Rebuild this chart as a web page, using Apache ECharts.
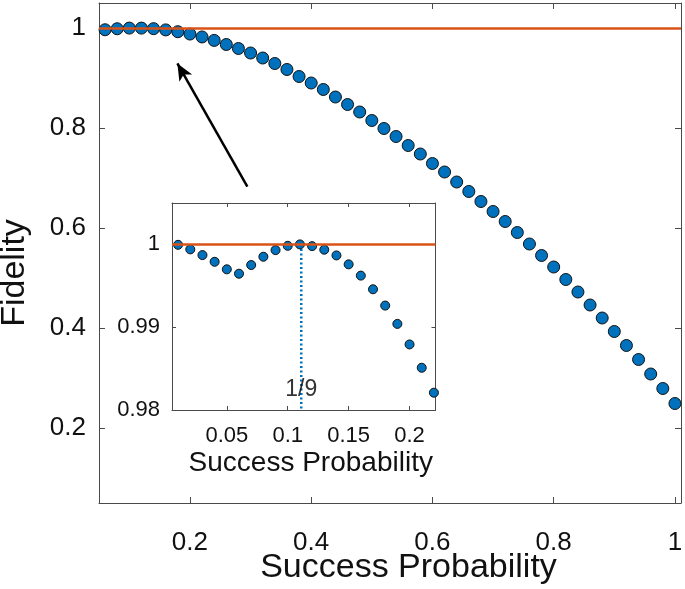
<!DOCTYPE html>
<html>
<head>
<meta charset="utf-8">
<script src="https://cdn.jsdelivr.net/npm/echarts@6/dist/echarts.min.js"></script>
<style>
html,body{margin:0;padding:0;background:#fff;}
#chart{width:685px;height:589px;}
</style>
</head>
<body>
<div id="chart"></div>
<script>
// ---- Main panel data ----
const mainP = [0.06,0.08,0.10,0.12,0.14,0.16,0.18,0.20,0.22,0.24,0.26,0.28,0.30,0.32,0.34,0.36,0.38,0.40,0.42,0.44,0.46,0.48,0.50,0.52,0.54,0.56,0.58,0.60,0.62,0.64,0.66,0.68,0.70,0.72,0.74,0.76,0.78,0.80,0.82,0.84,0.86,0.88,0.90,0.92,0.94,0.96,0.98,1.00];
const mainF = [0.9965,0.9985,0.9998,0.9998,0.9987,0.9962,0.9926,0.9879,0.9821,0.9752,0.967,0.959,0.950,0.940,0.929,0.917,0.903,0.890,0.877,0.862,0.847,0.832,0.815,0.799,0.783,0.765,0.748,0.729,0.712,0.692,0.673,0.653,0.633,0.613,0.591,0.568,0.545,0.522,0.497,0.472,0.446,0.420,0.393,0.365,0.337,0.308,0.279,0.249];
const mainXTicks = [0.2,0.4,0.6,0.8,1];
const mainYTicks = [0.2,0.4,0.6,0.8,1];
const mainXRange = [0.05, 1.01];
const mainYRange = [0.05, 1.05];

// ---- Inset data ----
const insetP = [0.01,0.02,0.03,0.04,0.05,0.06,0.07,0.08,0.09,0.10,0.11,0.12,0.13,0.14,0.15,0.16,0.17,0.18,0.19,0.20,0.21,0.22];
const insetF = [0.99995,0.99940,0.99871,0.99790,0.99699,0.99646,0.99751,0.99851,0.99931,0.99983,1.00000,0.99979,0.99936,0.99867,0.99759,0.99623,0.99458,0.99261,0.99040,0.98792,0.98510,0.98209];
const insetXTicks = [0.05,0.1,0.15,0.2];
const insetYTicks = [0.98,0.99,1];
const insetXRange = [0.005, 0.2213];
const insetYRange = [0.98, 1.005];

// ---- Annotations ----
const unityFidelity = 1;
const oneNinth = 1/9;
const oneNinthLine = [[oneNinth, 1], [oneNinth, 0.98]];
const oneNinthLabelPos = [oneNinth, 0.9825];
const arrowTail = [0.2947, 0.6826];
const arrowHead = [0.1793, 0.9292];

const FONT = 'Liberation Sans, Arial, sans-serif';
const AXIS_COLOR = '#4a4a4a';
const TEXT_COLOR = '#111111';
const BLUE = '#0072BD';
const ORANGE = '#D95319';

function fmt(v){ return String(+v.toFixed(4)); }

function makeAxes(kind, gridIndex, range, ticks, opts){
  const isX = kind === 'x';
  const main = {
    type: 'value', gridIndex: gridIndex, min: range[0], max: range[1],
    position: isX ? 'bottom' : 'left',
    z: opts.z,
    axisLine: {show: true, onZero: false, lineStyle: {color: AXIS_COLOR, width: 1}},
    axisTick: {show: true, inside: true, length: opts.tickLen, customValues: ticks, lineStyle: {color: AXIS_COLOR, width: 1}},
    axisLabel: {show: true, customValues: ticks, formatter: fmt, fontFamily: FONT, fontSize: opts.labelSize, color: TEXT_COLOR, margin: opts.labelMargin},
    splitLine: {show: false},
    name: opts.name || '', nameLocation: 'middle', nameGap: opts.nameGap || 0,
    nameMoveOverlap: false,
    nameTextStyle: {fontFamily: FONT, fontSize: opts.nameSize || 12, color: TEXT_COLOR, padding: opts.namePadding || 0}
  };
  const mirror = {
    type: 'value', gridIndex: gridIndex, min: range[0], max: range[1],
    position: isX ? 'top' : 'right',
    z: opts.z,
    axisLine: {show: true, onZero: false, lineStyle: {color: AXIS_COLOR, width: 1}},
    axisTick: {show: true, inside: true, length: opts.tickLen, customValues: ticks, lineStyle: {color: AXIS_COLOR, width: 1}},
    axisLabel: {show: false},
    splitLine: {show: false}
  };
  return [main, mirror];
}

const xAxes = [].concat(
  makeAxes('x', 0, mainXRange, mainXTicks, {z: 1, tickLen: 6, labelSize: 26, labelMargin: 27, name: 'Success Probability', nameSize: 34, nameGap: 48, namePadding: [0,0,0,37]}),
  makeAxes('x', 1, insetXRange, insetXTicks, {z: 10, tickLen: 4, labelSize: 22, labelMargin: 15, name: 'Success Probability', nameSize: 28, nameGap: 39, namePadding: [0,0,0,14]})
);
const yAxes = [].concat(
  makeAxes('y', 0, mainYRange, mainYTicks, {z: 1, tickLen: 6, labelSize: 26, labelMargin: 13, name: 'Fidelity', nameSize: 34, nameGap: 67, namePadding: [0,40,0,0]}),
  makeAxes('y', 1, insetYRange, insetYTicks, {z: 10, tickLen: 4, labelSize: 22, labelMargin: 12})
);

const chart = echarts.init(document.getElementById('chart'), null, {renderer: 'canvas'});
chart.setOption({
  backgroundColor: '#ffffff',
  animation: false,
  grid: [
    {left: 99, top: 3, width: 582, height: 500, containLabel: false, outerBoundsMode: 'none', show: true, backgroundColor: '#fff', borderWidth: 0, z: 0},
    {left: 172, top: 203, width: 263.5, height: 207, containLabel: false, outerBoundsMode: 'none', show: true, backgroundColor: '#fff', borderWidth: 0, z: 10}
  ],
  xAxis: xAxes,
  yAxis: yAxes,
  series: [
    {
      type: 'scatter', xAxisIndex: 0, yAxisIndex: 0, z: 2,
      data: mainP.map((p, i) => [p, mainF[i]]),
      symbol: 'circle', symbolSize: 12,
      itemStyle: {color: BLUE, borderColor: '#111', borderWidth: 1, opacity: 1},
      silent: true,
      markLine: {
        silent: true, animation: false, z: 5,
        symbol: ['none', 'none'],
        label: {show: false},
        emphasis: {disabled: true},
        data: [
          {yAxis: unityFidelity, lineStyle: {color: ORANGE, width: 2.5, type: 'solid'}},
          [
            {coord: arrowTail, symbol: 'none', lineStyle: {color: '#000', width: 2.5, type: 'solid'}},
            {coord: arrowHead, symbol: 'arrow', symbolSize: [11, 17], itemStyle: {color: '#000'}, lineStyle: {color: '#000', width: 2.5, type: 'solid'}}
          ]
        ]
      }
    },
    {
      type: 'line', xAxisIndex: 2, yAxisIndex: 2, z: 11,
      data: oneNinthLine, symbol: 'none', silent: true,
      lineStyle: {color: BLUE, width: 2.5, type: [2, 2.5]}
    },
    {
      type: 'scatter', xAxisIndex: 2, yAxisIndex: 2, z: 12,
      data: insetP.map((p, i) => [p, insetF[i]]),
      symbol: 'circle', symbolSize: 9,
      itemStyle: {color: BLUE, borderColor: '#111', borderWidth: 1, opacity: 1},
      silent: true,
      markLine: {
        silent: true, animation: false, z: 13,
        symbol: ['none', 'none'],
        label: {show: false},
        emphasis: {disabled: true},
        data: [{yAxis: unityFidelity, lineStyle: {color: ORANGE, width: 2.5, type: 'solid'}}]
      }
    },
    {
      type: 'scatter', xAxisIndex: 2, yAxisIndex: 2, z: 14,
      data: [oneNinthLabelPos], symbolSize: 0, silent: true,
      label: {show: true, position: 'inside', formatter: '1/9', fontFamily: FONT, fontSize: 23, color: '#000', textBorderWidth: 0}
    }
  ]
});
</script>
</body>
</html>
